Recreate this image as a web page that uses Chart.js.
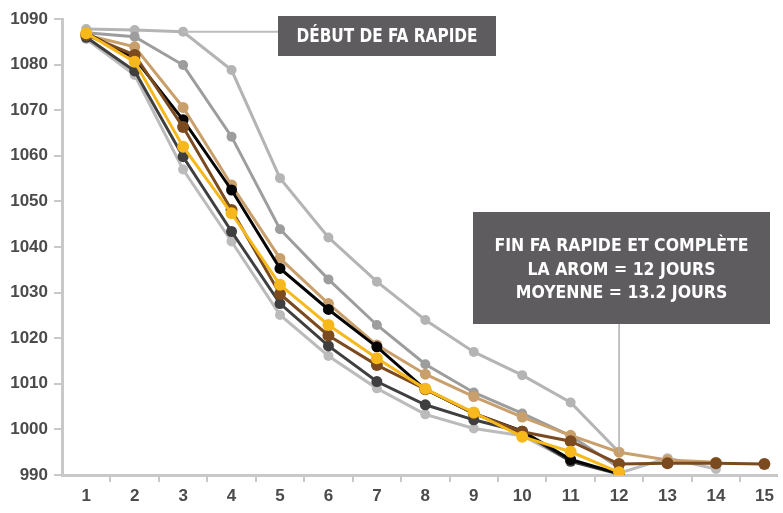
<!DOCTYPE html>
<html>
<head>
<meta charset="utf-8">
<script src="https://cdn.jsdelivr.net/npm/chart.js@4.4.1/dist/chart.umd.min.js"></script>
<style>
  html, body { margin: 0; padding: 0; background: #fff; }
  canvas { display: block; }
</style>
</head>
<body>
<canvas id="chart" width="783" height="513"></canvas>
<script>
// Jours de fermentation (axe X)
const days = [1, 2, 3, 4, 5, 6, 7, 8, 9, 10, 11, 12, 13, 14, 15];
const yTicks = [990, 1000, 1010, 1020, 1030, 1040, 1050, 1060, 1070, 1080, 1090];

// Densité par essai
const yellowRun    = [1086.9, 1080.6, 1062.0, 1047.4, 1031.7, 1022.9, 1015.6, 1008.9, 1003.7, 998.4, 995.1, 990.6];
const brownRun     = [1086.5, 1082.1, 1066.3, 1048.1, 1029.7, 1020.6, 1014.1, 1008.8, 1003.5, 999.5, 997.4, 992.4, 992.6, 992.6, 992.4];
const blackRun     = [1086.9, 1081.4, 1067.9, 1052.5, 1035.3, 1026.3, 1018.1, 1008.8, 1003.5, 999.6, 993.4, 990.3];
const tanRun       = [1086.5, 1083.9, 1070.6, 1053.6, 1037.5, 1027.6, 1018.5, 1012.1, 1007.2, 1002.7, 998.7, 995.0, 993.3, 992.8];
const darkGrayRun  = [1086.0, 1078.6, 1059.8, 1043.4, 1027.6, 1018.3, 1010.5, 1005.4, 1002.1, 999.4, 993.0, 990.2];
const midGrayRun   = [1087.0, 1086.1, 1079.9, 1064.2, 1043.9, 1032.9, 1022.9, 1014.3, 1008.1, 1003.5, 998.6, 991.6];
const lowGrayRun   = [1085.6, 1077.7, 1057.0, 1041.2, 1025.1, 1016.1, 1009.0, 1003.3, 1000.2, 998.6, 993.1, 990.4, 993.7, 991.3];
const slowGrayRun  = [1087.8, 1087.6, 1087.2, 1078.8, 1055.1, 1042.1, 1032.4, 1024.0, 1017.0, 1011.9, 1005.9, 995.0];

const AXIS_GREY = "#c8c8c8";
const LABEL_COLOR = "#4b4b4b";
const BOX_COLOR = "#5e5c5f";
const NARROW = "'Liberation Sans Narrow', 'DejaVu Sans Condensed', 'Liberation Sans', sans-serif";

const toPoints = (values) => values.map((v, i) => ({ x: days[i], y: v }));

// premier dataset = dessiné au-dessus
const runs = [
    { values: yellowRun,   color: "#f7b81b", radius: 6 },
    { values: brownRun,    color: "#7b4a1e", radius: 6 },
    { values: blackRun,    color: "#050505", radius: 5.5 },
    { values: tanRun,      color: "#c9a06b", radius: 5.5 },
    { values: darkGrayRun, color: "#3f3f3f", radius: 5.5 },
    { values: midGrayRun,  color: "#9d9d9d", radius: 5 },
    { values: lowGrayRun,  color: "#bbbbbb", radius: 5 },
    { values: slowGrayRun, color: "#b4b4b4", radius: 5 }
];

/* Encadrés d'annotation (texte condensé blanc sur gris) */
const notes = [
    { lines: ["DÉBUT DE FA RAPIDE"], box: [278, 16, 218, 40], size: 20, fit: 181, rows: [36.5] },
    {
        lines: ["FIN FA RAPIDE ET COMPLÈTE", "LA AROM = 12 JOURS", "MOYENNE = 13.2 JOURS"],
        box: [473, 212, 297, 112], size: 18.5, fit: 254, rows: [246.5, 270, 293.5]
    }
];

const annotationPlugin = {
    id: "notes",
    afterDatasetsDraw(chart) {
        const { ctx, scales: { x, y } } = chart;
        ctx.save();

        // trait horizontal : essai lent au jour 3 -> encadré du haut
        ctx.strokeStyle = "#bdbdbd";
        ctx.lineWidth = 2;
        ctx.beginPath();
        const yStart = y.getPixelForValue(slowGrayRun[2]);
        ctx.moveTo(x.getPixelForValue(3), yStart);
        ctx.lineTo(notes[0].box[0], yStart);
        ctx.stroke();

        // trait vertical : encadré du bas -> jour 12
        ctx.strokeStyle = "#b0b0b0";
        ctx.lineWidth = 1.5;
        ctx.beginPath();
        const x12 = x.getPixelForValue(12);
        ctx.moveTo(x12, notes[1].box[1] + notes[1].box[3]);
        ctx.lineTo(x12, y.getPixelForValue(tanRun[11]));
        ctx.stroke();

        notes.forEach((note) => {
            const [bx, by, bw, bh] = note.box;
            ctx.fillStyle = BOX_COLOR;
            ctx.fillRect(bx, by, bw, bh);

            ctx.font = `bold ${note.size}px ${NARROW}`;
            ctx.fillStyle = "#ffffff";
            ctx.textAlign = "center";
            ctx.textBaseline = "middle";
            const sx = note.fit / ctx.measureText(note.lines[0]).width;
            note.lines.forEach((line, i) => {
                ctx.save();
                ctx.translate(bx + bw / 2, note.rows[i]);
                ctx.scale(sx, 1);
                ctx.fillText(line, 0, 0);
                ctx.restore();
            });
        });
        ctx.restore();
    }
};

const tickFont = { family: "'Liberation Sans', Arial, sans-serif", size: 17, weight: "bold" };

new Chart(document.getElementById("chart"), {
    type: "line",
    data: {
        datasets: runs.map((r) => ({
            data: toPoints(r.values),
            borderColor: r.color,
            backgroundColor: r.color,
            pointBackgroundColor: r.color,
            pointBorderColor: r.color,
            pointBorderWidth: 0,
            pointRadius: r.radius,
            borderWidth: 3,
            tension: 0,
            fill: false
        }))
    },
    options: {
        responsive: false,
        animation: false,
        layout: { padding: { top: 19, right: 0, left: 0, bottom: 0 } },
        plugins: { legend: { display: false }, tooltip: { enabled: false } },
        scales: {
            x: {
                type: "linear",
                min: 0.5,
                max: 15.26,
                afterBuildTicks(scale) {
                    const ticks = [];
                    days.forEach((d) => {
                        ticks.push({ value: d });
                        if (d < days[days.length - 1]) ticks.push({ value: d + 0.5 });
                    });
                    scale.ticks = ticks;
                },
                afterFit(scale) { scale.height = 38; },
                grid: {
                    drawOnChartArea: false,
                    drawTicks: true,
                    tickLength: 7,
                    lineWidth: 2,
                    color: (c) => (c.tick && Number.isInteger(c.tick.value) ? "rgba(0,0,0,0)" : AXIS_GREY)
                },
                border: { color: AXIS_GREY, width: 3 },
                ticks: {
                    autoSkip: false,
                    maxRotation: 0,
                    minRotation: 0,
                    padding: 4,
                    color: LABEL_COLOR,
                    font: tickFont,
                    callback: (v) => (Number.isInteger(v) ? String(v) : "")
                }
            },
            y: {
                min: yTicks[0],
                max: yTicks[yTicks.length - 1],
                afterBuildTicks(scale) { scale.ticks = yTicks.map((v) => ({ value: v })); },
                afterFit(scale) { scale.width = 62; },
                grid: {
                    drawOnChartArea: false,
                    drawTicks: true,
                    tickLength: 8,
                    lineWidth: 2,
                    color: AXIS_GREY
                },
                border: { color: AXIS_GREY, width: 3 },
                ticks: {
                    padding: 6,
                    color: LABEL_COLOR,
                    font: tickFont,
                    callback: (v) => String(v)
                }
            }
        }
    },
    plugins: [annotationPlugin]
});
</script>
</body>
</html>
